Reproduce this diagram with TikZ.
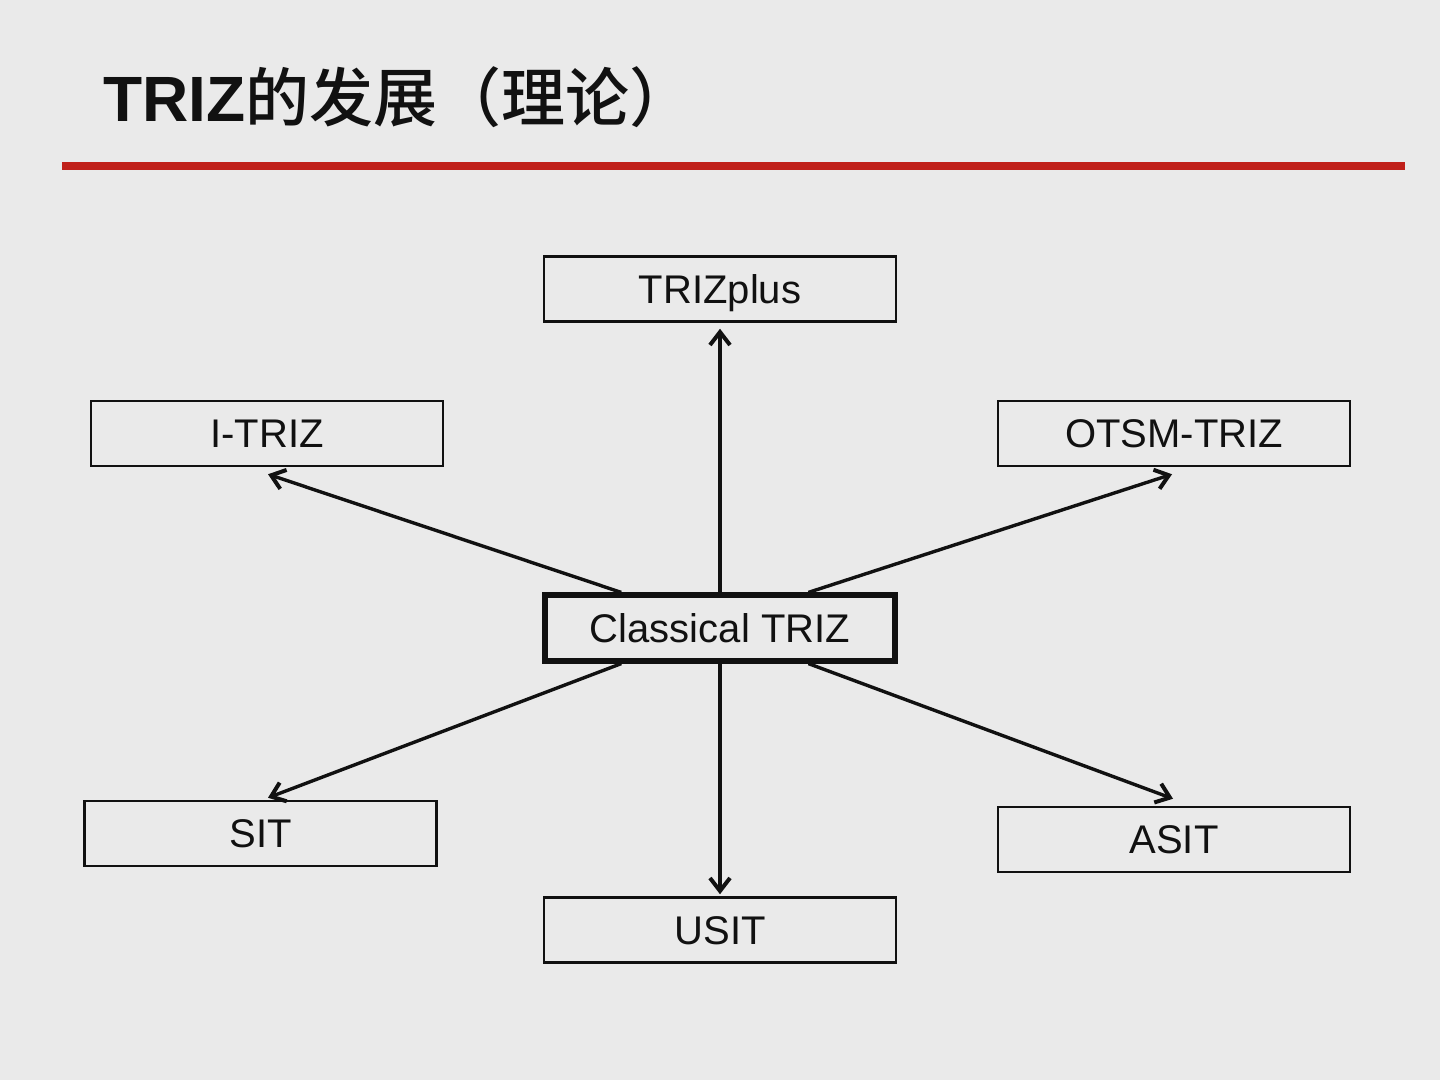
\documentclass[tikz,border=0pt]{standalone}
\usepackage{fontspec}
\setmainfont{Liberation Sans}
\newfontfamily\cjk{Noto Sans CJK SC}[UprightFont=* Medium,BoldFont=* Bold]
\usetikzlibrary{arrows.meta,calc}
\definecolor{bg}{RGB}{234,234,234}
\definecolor{redline}{RGB}{192,32,26}
\definecolor{ink}{RGB}{17,17,17}
\tikzset{
  boxnode/.style={draw=ink,line width=1.25pt,minimum width=176pt,minimum height=32.5pt,inner sep=0pt,text height=14.3pt,text depth=0pt,font=\fontsize{20pt}{24pt}\selectfont,text=ink},
  mainbox/.style={boxnode,line width=2.6pt},
  conn/.style={draw=ink,line width=1.7pt,-{Straight Barb[length=6.5pt,width=10pt,line width=2pt]}},
}
\begin{document}
\begin{tikzpicture}[x=0.5pt,y=-0.5pt]
\fill[bg] (0,0) rectangle (1440,1080);
\useasboundingbox (0,0) rectangle (1440,1080);
\node[anchor=base west,inner sep=0pt,text=ink,font=\fontsize{32pt}{38pt}\selectfont] (title) at (103,122) {{\bfseries TRIZ}{\cjk\mdseries 的发展（理论）}};
\fill[redline] (62,162) rectangle (1405,170);
\coordinate (rl) at (62,166);
\node[boxnode] (plus) at (720,289) {TRIZplus};
\node[boxnode] (itriz) at (267,433.5) {I-TRIZ};
\node[boxnode] (otsm) at (1174,433.5) {OTSM-TRIZ};
\node[mainbox,minimum width=175pt,minimum height=33pt] (c) at (720,628) {Classical TRIZ};
\node[boxnode] (sit) at (260.5,833.5) {SIT};
\node[boxnode] (asit) at (1174,839.5) {ASIT};
\node[boxnode] (usit) at (720,930) {USIT};
\coordinate (cnl) at ($(c.north west)!0.222!(c.north east)$);
\coordinate (cnr) at ($(c.north west)!0.749!(c.north east)$);
\coordinate (csl) at ($(c.south west)!0.222!(c.south east)$);
\coordinate (csr) at ($(c.south west)!0.749!(c.south east)$);
\draw[conn] (c.north) -- ([yshift=-3pt]plus.south);
\draw[conn] (c.south) -- ([yshift=1pt]usit.north);
\draw[conn] (cnl) -- ([xshift=0.5pt,yshift=-3.5pt]itriz.south);
\draw[conn] (cnr) -- ([xshift=-1pt,yshift=-3.5pt]otsm.south);
\draw[conn] (csl) -- ([xshift=3.75pt,yshift=1pt]sit.north);
\draw[conn] (csr) -- ([xshift=-0.5pt,yshift=3.5pt]asit.north);
\end{tikzpicture}
\end{document}
